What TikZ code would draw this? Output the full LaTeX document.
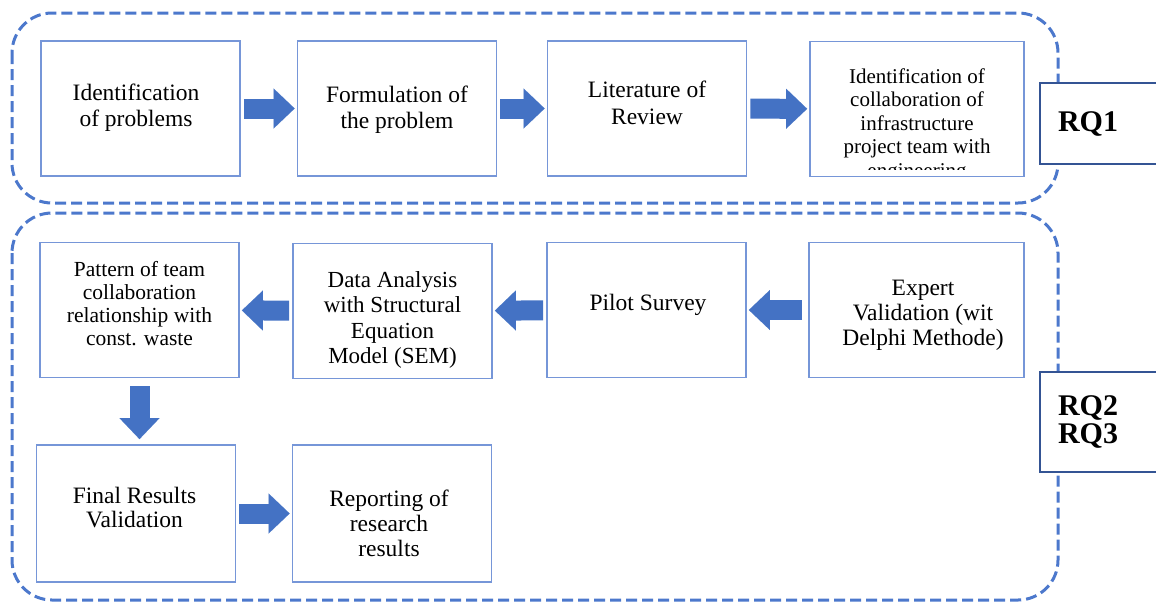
\documentclass[tikz,border=0pt]{standalone}
\usepackage{fontspec}
\setmainfont{Liberation Serif}
\usetikzlibrary{arrows.meta}

\definecolor{dashblue}{RGB}{76,120,204}
\definecolor{boxblue}{RGB}{118,150,216}
\definecolor{arrowblue}{RGB}{68,114,196}
\definecolor{rqblue}{RGB}{52,84,148}

\tikzset{
  stepbox/.style={draw=boxblue, line width=1.8pt, fill=white, minimum width=199pt,
    minimum height=135pt, inner sep=0pt},
  steptext/.style={align=center, inner sep=0pt, font=\rmfamily\fontsize{23.5}{26.5}\selectfont},
  groupbox/.style={draw=dashblue, line width=3pt, dash pattern=on 11pt off 5pt, rounded corners=40pt},
  rqbox/.style={draw=rqblue, line width=1.5pt, fill=white, minimum width=120pt, text width=84pt,
    align=left, font=\rmfamily\fontsize{30}{28}\selectfont\bfseries},
  flow/.style={draw=arrowblue, line width=20pt,
    -{Triangle[length=21pt,width=40pt,line width=0.01pt]}, shorten <=3pt, shorten >=2pt}
}

\begin{document}
\begin{tikzpicture}[x=1pt,y=-1pt]
                \useasboundingbox (0,0) rectangle (1156,603);

                \draw[groupbox] (12,13) rectangle (1058,203);
                \draw[groupbox] (12,213) rectangle (1058,600);

                % RQ1
                \node (ident) at (140.5,108.5) [stepbox] {};
                \node (formul) at (397,108.5) [stepbox] {};
                \node (review) at (647,108.5) [stepbox] {};
                \node (collab) at (917,109) [stepbox, minimum width=214pt] {};

                \node (identtext) at (136,107.5) [steptext] {Identification\\of problems};
                \node (formultext) at (397,109.5) [steptext] {Formulation of\\the problem};
                \node (reviewtext) at (647,103) [steptext] {Literature of\\Review};
                \begin{scope}
                    \clip (810,41) rectangle (1024,169);
                    \node (collabtext) at (917,125) [steptext, font=\rmfamily\fontsize{21}{23.5}\selectfont]
                        {Identification of\\collaboration of\\infrastructure\\project team with\\engineering};
                \end{scope}

                % RQ2 and RQ3
                \node (pattern) at (139.5,310) [stepbox] {};
                \node (analysis) at (392.5,311) [stepbox] {};
                \node (pilot) at (646.5,310) [stepbox] {};
                \node (expert) at (916.5,310) [stepbox, minimum width=215pt] {};
                \node (final) at (136,513.5) [stepbox, minimum height=137pt] {};
                \node (report) at (392,513.5) [stepbox, minimum height=137pt] {};

                \node (patterntext) at (139.5,304) [steptext, font=\rmfamily\fontsize{21.5}{23}\selectfont]
                    {Pattern of team\\collaboration\\relationship with\\const. waste};
                \node (analysistext) at (392.5,320) [steptext, font=\rmfamily\fontsize{23}{25.5}\selectfont]
                    {Data Analysis\\with Structural\\Equation\\Model (SEM)};
                \node (pilottext) at (648,305) [steptext] {Pilot Survey};
                \node (experttext) at (923,315.5) [steptext, font=\rmfamily\fontsize{23.5}{25}\selectfont]
                    {Expert\\Validation (wit\\Delphi Methode)};
                \node (finaltext) at (134.5,507.5) [steptext, font=\rmfamily\fontsize{23.5}{24}\selectfont]
                    {Final Results\\Validation};
                \node (reporttext) at (389,523.5) [steptext, font=\rmfamily\fontsize{23.5}{25}\selectfont]
                    {Reporting of\\research\\results};

                \node (rq1) at (1100,123.5) [rqbox, minimum height=81pt] {RQ1};
                \node (rqrest) at (1100,422) [rqbox, minimum height=100pt] {RQ2\\RQ3};

                \draw[flow] (ident) -- (formul);
                \draw[flow] (formul) -- (review);
                \draw[flow] (review) -- (collab);
                \draw[flow, shorten <=6pt] (expert) -- (pilot);
                \draw[flow] (pilot) -- (analysis);
                \draw[flow] (analysis) -- (pattern);
                \draw[flow, shorten <=8pt, shorten >=5pt] (pattern.south) -- (pattern.south |- final.north);
                \draw[flow] (final) -- (report);
            \end{tikzpicture}
\end{document}
